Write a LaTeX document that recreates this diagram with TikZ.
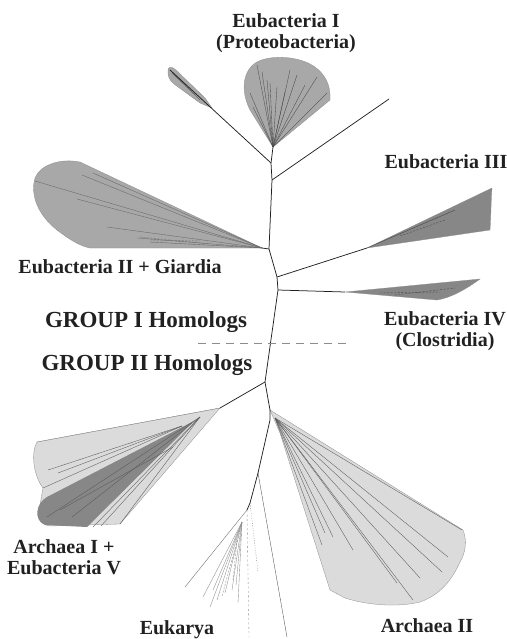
\documentclass[tikz,border=0pt]{standalone}
\usepackage{fontspec}
\setmainfont{Liberation Serif}
\definecolor{midfill}{gray}{0.66}
\definecolor{darkfill}{gray}{0.53}
\definecolor{lightfill}{gray}{0.86}
\definecolor{inkcol}{gray}{0.13}
\begin{document}
\begin{tikzpicture}[x=1pt,y=-1pt,
  branch/.style={draw=inkcol, line width=0.75pt},
  twig/.style={draw=black!65, line width=0.35pt},
  twigd/.style={draw=black!55, line width=0.4pt, dash pattern=on 2pt off 1.5pt},
  clade/.style={draw=black!45, line width=0.3pt},
  lab/.style={font=\bfseries\fontsize{20}{21}\selectfont, text=inkcol, align=center, inner sep=0pt},
  grp/.style={font=\bfseries\fontsize{23}{25}\selectfont, text=inkcol, inner sep=0pt}]
\useasboundingbox (0,0) rectangle (506,639);

% ---- junctions ----
\coordinate (e1apex) at (273,147);
\coordinate (j0) at (271,163);
\coordinate (j1) at (272,180);
\coordinate (r1) at (389,99);
\coordinate (sm) at (170,70);
\coordinate (j2) at (269,249);
\coordinate (e2apex) at (262,248);
\coordinate (j3) at (277,277);
\coordinate (e3apex) at (367,248);
\coordinate (j4) at (278,290);
\coordinate (e4apex) at (345,292);
\coordinate (j5) at (265,382);
\coordinate (a1apex) at (220,408);
\coordinate (a2apex) at (270,410);
\coordinate (j6) at (270,420);
\coordinate (j7) at (258,473);
\coordinate (j8) at (250,503);
\coordinate (j9) at (247,510);
\coordinate (j10) at (242,522);

% ---- Eubacteria I fan ----
\filldraw[fill=midfill, clade] (e1apex) -- (250,110) .. controls (240,90) and (243,70) .. (257,62)
  .. controls (270,55) and (295,56) .. (310,64) .. controls (325,72) and (331,85) .. (330,100) -- cycle;
\foreach \p in {(257,65),(267,80),(277,87),(297,75),(317,77),(327,93),(250,93),(253,107),(270,83),(262,72),(285,92),(305,85),(290,70)}
  \draw[twig, draw=black!70] (e1apex) -- \p;
% small leaf at upper left
\filldraw[fill=midfill, clade] (168,72) .. controls (167,66) and (172,66) .. (176,70) -- (205,98) -- (212,108)
  -- (200,103) -- (174,84) .. controls (169,80) and (168,76) .. (168,72);
\draw[twig] (sm) -- (200,100);
\draw[twig] (172,73) -- (195,95);

% ---- Eubacteria II fan ----
\filldraw[fill=midfill, clade] (e2apex) -- (80,162) .. controls (60,158) and (40,165) .. (35,178)
  .. controls (30,195) and (38,215) .. (57,230) .. controls (70,240) and (80,246) .. (90,248) -- cycle;
\foreach \p in {(35,181),(82,175),(93,173),(77,199),(107,227),(138,238),(150,242)}
  \draw[twig, draw=black!60] (e2apex) -- \p;
\draw[twigd] (140,237) -- (210,244);
\draw[twigd] (150,240) -- (200,241);

% ---- Eubacteria III fan ----
\filldraw[fill=darkfill, clade] (e3apex) -- (492,188) .. controls (491,200) and (491,215) .. (490,230) -- cycle;
\draw[twig, draw=black!75] (e3apex) -- (455,210);
\draw[twigd, draw=black!70] (400,236) -- (445,220);

% ---- Eubacteria IV fan ----
\filldraw[fill=darkfill, clade] (e4apex) -- (480,279) .. controls (465,290) and (450,298) .. (437,300) -- cycle;
\draw[twigd, draw=black!70] (380,293) -- (440,292);
\draw[twigd, draw=black!70] (395,295) -- (455,288);

% ---- Archaea I + Eubacteria V ----
\filldraw[fill=lightfill, clade] (a1apex) -- (37,442) .. controls (31,452) and (33,475) .. (43,488)
  -- (40,505) .. controls (36,515) and (38,524) .. (50,526) -- (120,524) -- cycle;
\filldraw[fill=darkfill, draw=none] (194,421) -- (47,497) .. controls (36,503) and (33,520) .. (45,525)
  -- (87,527) -- cycle;
\draw[clade] (37,442) -- (a1apex);
\foreach \p in {(48,470),(58,473),(43,488)} \draw[twig] \p -- (182,426);
\foreach \p in {(47,517),(72,517),(93,527),(101,526),(120,524)} \draw[twig] \p -- (200,417);
\draw[twig] (60,510) -- (173,447);

% ---- Archaea II ----
\filldraw[fill=lightfill, clade] (a2apex) -- (463,530) .. controls (467,540) and (466,552) .. (460,562)
  .. controls (452,580) and (440,595) .. (420,602) .. controls (400,607) and (370,606) .. (345,598)
  -- (330,590) -- (280,433) -- cycle;
\foreach \p in {(462,530),(448,557),(442,572),(420,578),(413,600),(397,583),(353,550),(333,537),(322,545),(325,533)}
  \draw[twig] (275,418) -- \p;

% ---- Eukarya ----
\draw[twig, draw=black!70] (j7) -- (287,637);
\draw[twig, draw=black!50, dash pattern=on 1pt off 1.5pt] (j8) -- (258,572);
\draw[twig, draw=black!60] (j9) -- (185,587);
\draw[twig, draw=black!50, dash pattern=on 2pt off 2.5pt] (j9) -- (249,637);
\foreach \p in {(203,597),(210,607),(217,600),(225,593),(232,590),(238,603),(236,585),(213,590)}
  \draw[twig, draw=black!45] (j10) -- \p;
\draw[twigd, draw=black!45] (237,540) -- (233,580);
\draw[twigd, draw=black!45] (240,530) -- (222,596);

% ---- backbone ----
\draw[branch] (e1apex) -- (j0) -- (j1) -- (j2) -- (j3) -- (j4) -- (j5);
\draw[branch] (j0) -- (sm);
\draw[branch] (j1) -- (r1);
\draw[branch] (j2) -- (e2apex);
\draw[branch] (j3) -- (e3apex);
\draw[branch] (j4) -- (e4apex);
\draw[branch] (j5) -- (a1apex);
\draw[branch] (j5) -- (a2apex) -- (j6) -- (j7) -- (j8) -- (j9);

% ---- separator ----
\coordinate (sepL) at (198,343);
\coordinate (sepR) at (350,343);
\draw[draw=black!45, line width=0.6pt, dash pattern=on 8pt off 6pt] (sepL) -- (sepR);

% ---- labels ----
\node[lab] (le1) at (286,33) {Eubacteria I\\(Proteobacteria)};
\node[lab] (le3) at (446,162) {Eubacteria III};
\node[lab] (le4) at (445,331) {Eubacteria IV\\(Clostridia)};
\node[lab] (le2) at (120,267) {Eubacteria II + Giardia};
\node[grp] (g1) at (146,322) {GROUP I Homologs};
\node[grp] (g2) at (147,365) {GROUP II Homologs};
\node[lab] (la1) at (64,557) {Archaea I +\\Eubacteria V};
\node[lab] (leu) at (177,630) {Eukarya};
\node[lab] (la2) at (427,626) {Archaea II};
\end{tikzpicture}
\end{document}
